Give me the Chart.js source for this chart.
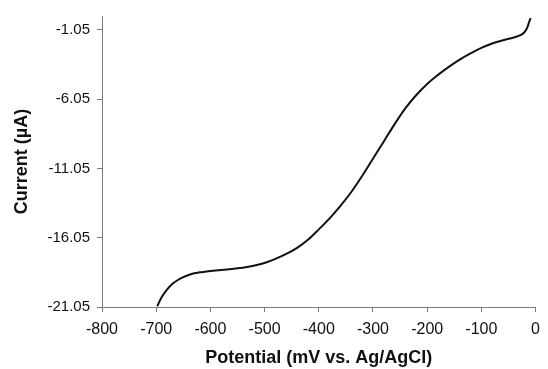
<!DOCTYPE html>
<html>
<head>
<meta charset="utf-8">
<script src="https://cdn.jsdelivr.net/npm/chart.js@4"></script>
<style>
  html, body { margin: 0; padding: 0; background: #fff; }
  #wrap { width: 548px; height: 369px; }
</style>
</head>
<body>
<div id="wrap"><canvas id="myChart" width="548" height="369"></canvas></div>
<script>
// Potential (mV) and current (µA)
const potential = [-698, -690, -680, -670, -660, -650, -640, -630, -620, -610, -600,
  -580, -560, -540, -520, -500, -480, -460, -440, -420, -400, -380, -360, -340,
  -320, -300, -280, -260, -240, -220, -200, -180, -160, -140, -120, -100, -80,
  -60, -40, -27, -20, -15, -12, -9];
const current = [-21.00, -20.35, -19.80, -19.38, -19.10, -18.90, -18.74, -18.62, -18.55, -18.50, -18.46,
  -18.38, -18.30, -18.22, -18.08, -17.88, -17.58, -17.22, -16.78, -16.20, -15.45, -14.65, -13.75, -12.75,
  -11.60, -10.35, -9.10, -7.85, -6.70, -5.75, -4.95, -4.30, -3.72, -3.20, -2.75, -2.35, -2.03,
  -1.80, -1.60, -1.42, -1.20, -0.85, -0.50, -0.20];

// Achsenbeschriftungen
const yTicks = [-21.05, -16.05, -11.05, -6.05, -1.05];
const xTicks = [-800, -700, -600, -500, -400, -300, -200, -100, 0];

const ctx = document.getElementById('myChart').getContext('2d');
const points = potential.map((p, i) => ({ x: p, y: current[i] }));
const axisColor = '#7a7a7a';
const fam = 'Liberation Sans, Arial, sans-serif';

new Chart(ctx, {
  type: 'line',
  data: {
    datasets: [{
      data: points,
      borderColor: '#111',
      borderWidth: 2,
      pointRadius: 0,
      cubicInterpolationMode: 'monotone',
      fill: false
    }]
  },
  options: {
    responsive: false,
    animation: false,
    layout: { padding: { left: 0, right: 6, top: 13, bottom: 0 } },
    plugins: { legend: { display: false }, tooltip: { enabled: false } },
    scales: {
      x: {
        type: 'linear',
        min: -800,
        max: 0,
        afterBuildTicks: s => { s.ticks = xTicks.map(v => ({ value: v })); },
        afterFit: s => { s.height = 62; },
        grid: { drawOnChartArea: false, drawTicks: true, tickLength: 5, color: axisColor },
        border: { color: axisColor, width: 1 },
        ticks: {
          color: '#111',
          padding: 8,
          maxRotation: 0,
          font: { family: fam, size: 16 }
        },
        title: {
          display: true,
          text: 'Potential (mV vs. Ag/AgCl)',
          color: '#111',
          padding: { top: 0, bottom: 0 },
          font: { family: fam, size: 18, weight: 'bold' }
        }
      },
      y: {
        type: 'linear',
        min: -21.05,
        max: -0.05,
        afterBuildTicks: s => { s.ticks = yTicks.map(v => ({ value: v })); },
        afterFit: s => { s.width = 102; },
        grid: { drawOnChartArea: false, drawTicks: true, tickLength: 5, color: axisColor },
        border: { color: axisColor, width: 1 },
        ticks: {
          color: '#111',
          padding: 7,
          callback: v => v.toFixed(2),
          font: { family: fam, size: 15 }
        },
        title: {
          display: true,
          text: 'Current (\u00b5A)',
          color: '#111',
          padding: { top: 11, bottom: 0 },
          font: { family: fam, size: 18, weight: 'bold' }
        }
      }
    }
  }
});
</script>
</body>
</html>
